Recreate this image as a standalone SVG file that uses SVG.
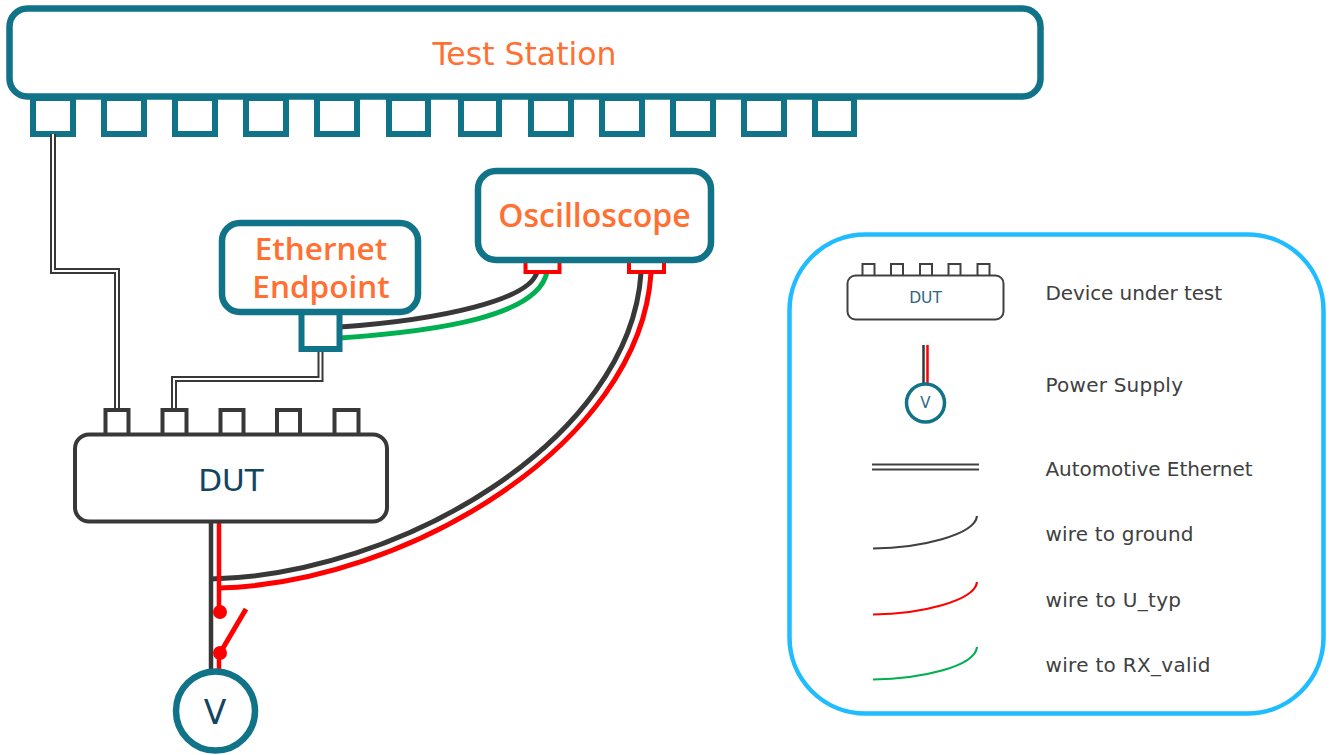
<svg xmlns="http://www.w3.org/2000/svg" width="1331" height="755" viewBox="0 0 1331 755">
<style>
.teal{fill:#fff;stroke:#107387;stroke-width:6.500}
.tp{fill:#fff;stroke:#107387;stroke-width:6}
.dk{fill:#fff;stroke:#383838;stroke-width:4}
.dks{fill:#fff;stroke:#404040;stroke-width:2}
.w{fill:none;stroke-linecap:butt}
.or{font-family:"DejaVu Sans",sans-serif;fill:#ff7033;text-anchor:middle}
.orb{font-family:"Open Sans","DejaVu Sans",sans-serif;font-weight:600;fill:#ff7033;text-anchor:middle}
.nv{font-family:"DejaVu Sans",sans-serif;fill:#12455f;text-anchor:middle}
.lg{font-family:"DejaVu Sans",sans-serif;font-size:20px;fill:#404040}
</style>
<rect width="1331" height="755" fill="#fff"/>

<g id="test-station">
<rect class="tp" x="33" y="98" width="40" height="36"/><rect class="tp" x="104" y="98" width="40" height="36"/><rect class="tp" x="175" y="98" width="40" height="36"/><rect class="tp" x="246" y="98" width="40" height="36"/><rect class="tp" x="317" y="98" width="40" height="36"/><rect class="tp" x="389" y="98" width="39" height="36"/><rect class="tp" x="461" y="98" width="38" height="36"/><rect class="tp" x="531" y="98" width="40" height="36"/><rect class="tp" x="602" y="98" width="40" height="36"/><rect class="tp" x="673" y="98" width="40" height="36"/><rect class="tp" x="744" y="98" width="40" height="36"/><rect class="tp" x="815" y="98" width="39" height="36"/>
<rect class="teal" x="9.500" y="8.500" width="1031" height="88" rx="18"/>
<text class="or" x="524.500" y="65" font-size="31.500">Test Station</text>
</g>

<g id="connectors">
<path class="w" d="M53 134V271H117V410" stroke="#383838" stroke-width="6"/><path class="w" d="M53 134V271H117V410" stroke="#fff" stroke-width="2"/>
<path class="w" d="M320.500 350V379H174V410" stroke="#383838" stroke-width="6"/><path class="w" d="M320.500 350V379H174V410" stroke="#fff" stroke-width="2"/>
<path class="w" d="M340 327C440 320 530 300 537 272" stroke="#383838" stroke-width="5"/>
<path class="w" d="M340 338C440 331 538 316 547 272" stroke="#00b050" stroke-width="5"/>
<path class="w" d="M641 273C630 440 400 575 211 579" stroke="#383838" stroke-width="5"/>
<path class="w" d="M651 273C640 445 405 583 219 588" stroke="#f00" stroke-width="5"/>
<path class="w" d="M211 522V672" stroke="#383838" stroke-width="4.500"/>
<path class="w" d="M219 522V612M219 652V672" stroke="#f00" stroke-width="4.500"/>
<path class="w" d="M219.500 654L246 609" stroke="#f00" stroke-width="5"/>
<circle cx="220" cy="612" r="7" fill="#f00"/><circle cx="220" cy="653" r="7" fill="#f00"/>
</g>

<g id="oscilloscope">
<rect fill="#fff" stroke="#f00" stroke-width="4" x="525.500" y="258" width="34" height="14"/>
<rect fill="#fff" stroke="#f00" stroke-width="4" x="629" y="258" width="35" height="14"/>
<rect class="teal" x="478" y="171" width="233" height="89" rx="18"/>
<text class="orb" x="594.500" y="227" font-size="32">Oscilloscope</text>
</g>

<g id="ethernet-endpoint">
<rect class="tp" x="301.500" y="310" width="38" height="39"/>
<rect class="teal" x="222" y="223" width="196" height="89" rx="18"/>
<text class="orb" font-size="31.500"><tspan x="321" y="260">Ethernet</tspan><tspan x="321" y="298">Endpoint</tspan></text>
</g>

<g id="dut">
<rect class="dk" x="105.500" y="410" width="23" height="26"/><rect class="dk" x="162.500" y="410" width="24" height="26"/><rect class="dk" x="220.500" y="410" width="23" height="26"/><rect class="dk" x="277" y="410" width="23" height="26"/><rect class="dk" x="334.500" y="410" width="24" height="26"/>
<rect class="dk" x="75" y="434.500" width="312" height="87" rx="14"/>
<text class="nv" x="231" y="491" font-size="31">DUT</text>
</g>

<g id="voltage-source">
<circle cx="215.500" cy="711" r="39.500" fill="#fff" stroke="#107387" stroke-width="6.500"/>
<text class="nv" x="215" y="724" font-size="33">V</text>
</g>

<g id="legend">
<rect x="789.500" y="234.500" width="534" height="479" rx="76" fill="#fff" stroke="#1fbcff" stroke-width="4.500"/>
<g id="legend-dut">
<rect class="dks" x="862.500" y="264" width="12" height="12"/><rect class="dks" x="891" y="264" width="12" height="12"/><rect class="dks" x="920" y="264" width="12" height="12"/><rect class="dks" x="948.500" y="264" width="12" height="12"/><rect class="dks" x="977.500" y="264" width="12" height="12"/>
<rect class="dks" x="847.500" y="275.500" width="156" height="44" rx="8"/>
<text x="925.500" y="303" font-family="DejaVu Sans,sans-serif" font-size="15.500" fill="#2f6680" text-anchor="middle">DUT</text>
</g>
<g id="legend-power">
<path d="M923.500 345V384" stroke="#383838" stroke-width="2.500" fill="none"/><path d="M927.500 345V384" stroke="#f00" stroke-width="2.500" fill="none"/>
<circle cx="925.500" cy="403" r="19" fill="#fff" stroke="#107387" stroke-width="3.500"/>
<text x="925.500" y="408" font-family="DejaVu Sans,sans-serif" font-size="15" fill="#2f6680" text-anchor="middle">V</text>
</g>
<path d="M872 464.500H979M872 469.500H979" stroke="#404040" stroke-width="2.200" fill="none"/>
<path d="M873 548.500C920 548 975 535 977 516" stroke="#404040" stroke-width="2.200" fill="none"/>
<path d="M873 614.500C920 614 975 601 977 582" stroke="#f00" stroke-width="2.200" fill="none"/>
<path d="M873 679.500C920 679 975 667 977 647" stroke="#00b050" stroke-width="2.200" fill="none"/>
<text class="lg" x="1045.500" y="299.500" textLength="176.500">Device under test</text>
<text class="lg" x="1045.500" y="391.500" textLength="137.500">Power Supply</text>
<text class="lg" x="1045.500" y="475.500" textLength="207">Automotive Ethernet</text>
<text class="lg" x="1045.500" y="540.500" textLength="148">wire to ground</text>
<text class="lg" x="1045.500" y="606.500" textLength="135.500">wire to U_typ</text>
<text class="lg" x="1045.500" y="671.500" textLength="165">wire to RX_valid</text>
</g>
</svg>
